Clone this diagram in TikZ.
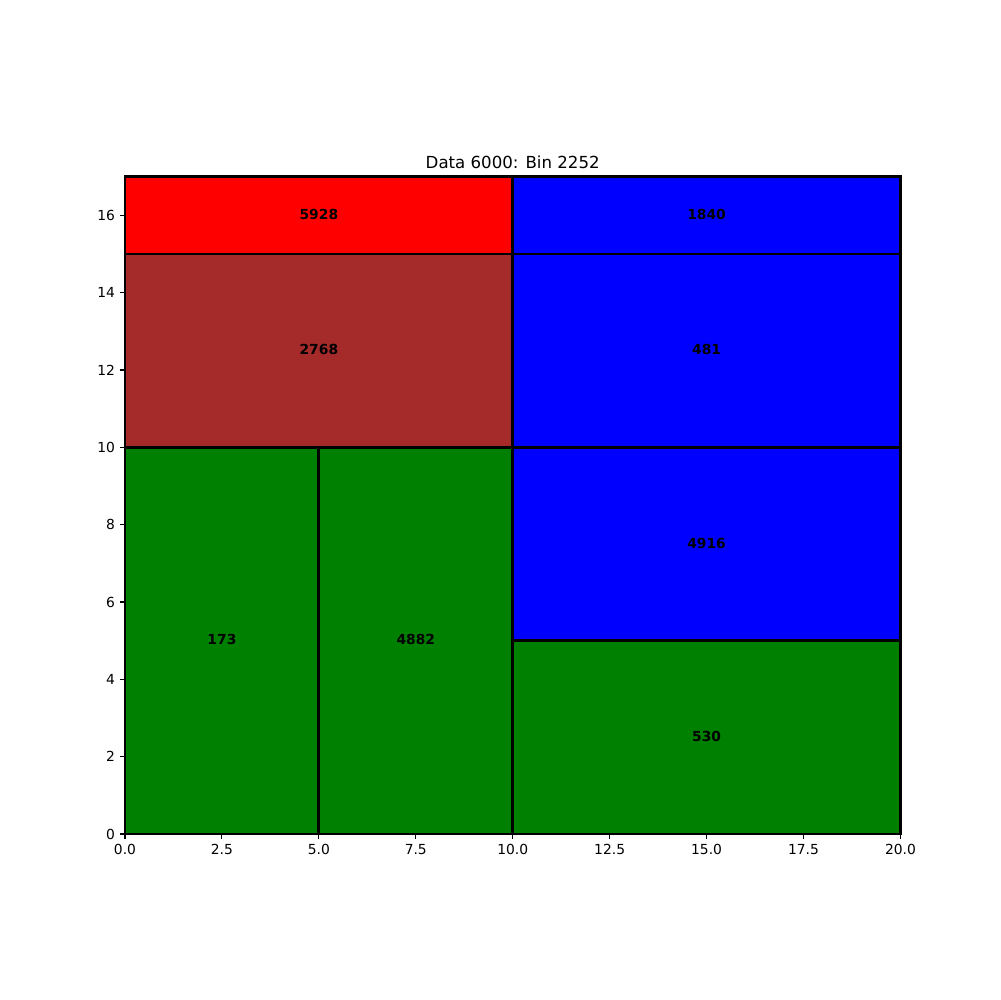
\documentclass[tikz,border=0pt]{standalone}
\usepackage{fontspec}
\setmainfont{DejaVu Sans}
\definecolor{mgreen}{HTML}{008000}
\definecolor{mbrown}{HTML}{A52A2A}
\definecolor{mred}{HTML}{FF0000}
\definecolor{mblue}{HTML}{0000FF}
\tikzset{
  celledge/.style={draw=black, line width=2pt},
  celllabel/.style={font=\fontsize{10}{12}\selectfont\bfseries, inner sep=0pt},
  ticklabel/.style={font=\fontsize{10}{12}\selectfont, inner sep=0pt},
  tickmark/.style={line width=0.8pt},
}
\begin{document}
\begin{tikzpicture}[x=0.01in, y=-0.01in]
\useasboundingbox (0,0) rectangle (1000,1000);
\fill[white] (0,0) rectangle (1000,1000);
\begin{scope}[shift={(125,834)}, x=0.3875in, y=0.38647in]
  \coordinate (o) at (0,0);
  \fill[mgreen] (0,0) rectangle (5,10);
  \fill[mgreen] (5,0) rectangle (10,10);
  \fill[mbrown] (0,10) rectangle (10,15);
  \fill[mred] (0,15) rectangle (10,17);
  \fill[mblue] (10,15) rectangle (20,17);
  \fill[mblue] (10,10) rectangle (20,15);
  \fill[mblue] (10,5) rectangle (20,10);
  \fill[mgreen] (10,0) rectangle (20,5);
  \draw[celledge] (0,0) rectangle (5,10);
  \draw[celledge] (5,0) rectangle (10,10);
  \draw[celledge] (0,10) rectangle (10,15);
  \draw[celledge] (0,15) rectangle (10,17);
  \draw[celledge] (10,15) rectangle (20,17);
  \draw[celledge] (10,10) rectangle (20,15);
  \draw[celledge] (10,5) rectangle (20,10);
  \draw[celledge] (10,0) rectangle (20,5);
  \node[celllabel] (l173) at ([yshift=0.7pt]2.5,5) {173};
  \node[celllabel] (l4882) at ([yshift=0.7pt]7.5,5) {4882};
  \node[celllabel] (l2768) at ([yshift=0.7pt]5,12.5) {2768};
  \node[celllabel] (l5928) at ([yshift=0.7pt]5,16) {5928};
  \node[celllabel] (l1840) at ([yshift=0.7pt]15,16) {1840};
  \node[celllabel] (l481) at ([yshift=0.7pt]15,12.5) {481};
  \node[celllabel] (l4916) at ([yshift=0.7pt]15,7.5) {4916};
  \node[celllabel] (l530) at ([yshift=0.7pt]15,2.5) {530};
  \draw[line width=0.8pt] (0,0) rectangle (20,17);
  \foreach \v/\t in {0/0.0, 2.5/2.5, 5/5.0, 7.5/7.5, 10/10.0, 12.5/12.5, 15/15.0, 17.5/17.5, 20/20.0} {
    \draw[tickmark] (\v,0) -- ++(0pt,-3.5pt);
    \node[ticklabel, anchor=north] (xt\v) at ([yshift=-7pt]\v,0) {\t};
  }
  \foreach \v in {0,2,4,6,8,10,12,14,16} {
    \draw[tickmark] (0,\v) -- ++(-3.5pt,0pt);
    \node[ticklabel, anchor=east] (yt\v) at ([xshift=-7pt]0,\v) {\v};
  }
  \node[font=\fontsize{12}{14}\selectfont, anchor=base, inner sep=0pt] (title) at ([yshift=6pt]10,17) {Data 6000: Bin 2252};
\end{scope}
\end{tikzpicture}
\end{document}
